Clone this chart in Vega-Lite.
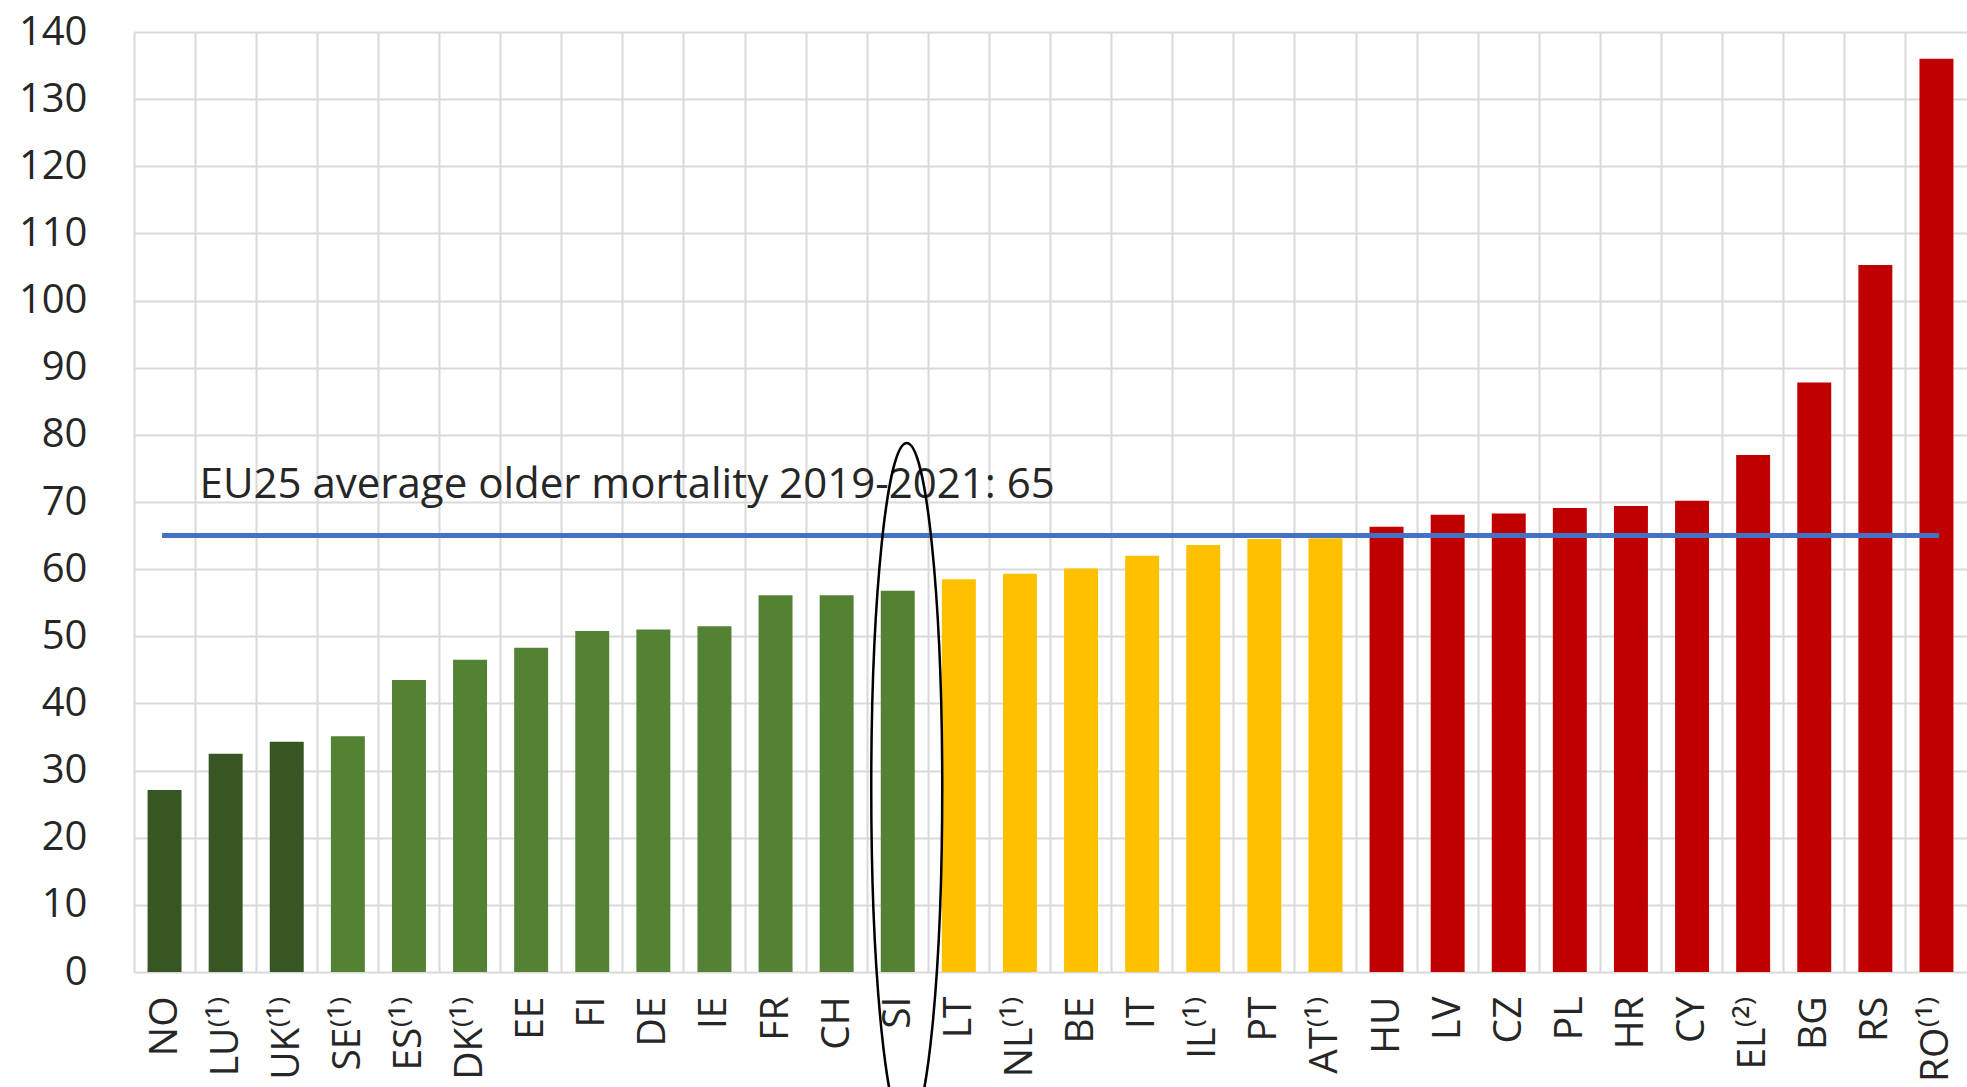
{
  "$schema": "https://vega.github.io/schema/vega-lite/v6.json",
  "autosize": "none",
  "width": 1833,
  "height": 940,
  "padding": {"left": 134, "top": 32, "right": 0, "bottom": 115},
  "background": "white",
  "config": {"view": {"stroke": null}, "font": "Open Sans"},
  "datasets": {
    "rates": [
      {"country": "NO", "value": 27.1, "group": "dark"},
      {"country": "LU⁽¹⁾", "value": 32.5, "group": "dark"},
      {"country": "UK⁽¹⁾", "value": 34.3, "group": "dark"},
      {"country": "SE⁽¹⁾", "value": 35.1, "group": "green"},
      {"country": "ES⁽¹⁾", "value": 43.5, "group": "green"},
      {"country": "DK⁽¹⁾", "value": 46.5, "group": "green"},
      {"country": "EE", "value": 48.3, "group": "green"},
      {"country": "FI", "value": 50.8, "group": "green"},
      {"country": "DE", "value": 51.0, "group": "green"},
      {"country": "IE", "value": 51.5, "group": "green"},
      {"country": "FR", "value": 56.1, "group": "green"},
      {"country": "CH", "value": 56.1, "group": "green"},
      {"country": "SI", "value": 56.8, "group": "green"},
      {"country": "LT", "value": 58.5, "group": "yellow"},
      {"country": "NL⁽¹⁾", "value": 59.3, "group": "yellow"},
      {"country": "BE", "value": 60.1, "group": "yellow"},
      {"country": "IT", "value": 62.0, "group": "yellow"},
      {"country": "IL⁽¹⁾", "value": 63.6, "group": "yellow"},
      {"country": "PT", "value": 64.5, "group": "yellow"},
      {"country": "AT⁽¹⁾", "value": 64.6, "group": "yellow"},
      {"country": "HU", "value": 66.3, "group": "red"},
      {"country": "LV", "value": 68.1, "group": "red"},
      {"country": "CZ", "value": 68.3, "group": "red"},
      {"country": "PL", "value": 69.1, "group": "red"},
      {"country": "HR", "value": 69.4, "group": "red"},
      {"country": "CY", "value": 70.2, "group": "red"},
      {"country": "EL⁽²⁾", "value": 77.0, "group": "red"},
      {"country": "BG", "value": 87.8, "group": "red"},
      {"country": "RS", "value": 105.3, "group": "red"},
      {"country": "RO⁽¹⁾", "value": 136.0, "group": "red"}
    ],
    "average": [
      {"country": "NO", "avg": 65},
      {"country": "RO⁽¹⁾", "avg": 65}
    ],
    "note": [
      {"country": "NO", "pos": 70.6, "label": "EU25 average older mortality 2019-2021: 65"}
    ],
    "highlight": [
      {"country": "SI", "center": 27.4}
    ]
  },
  "encoding": {
    "x": {
      "field": "country",
      "type": "nominal",
      "sort": null,
      "scale": {
        "domain": ["NO", "LU⁽¹⁾", "UK⁽¹⁾", "SE⁽¹⁾", "ES⁽¹⁾", "DK⁽¹⁾", "EE", "FI", "DE", "IE", "FR", "CH", "SI", "LT", "NL⁽¹⁾", "BE", "IT", "IL⁽¹⁾", "PT", "AT⁽¹⁾", "HU", "LV", "CZ", "PL", "HR", "CY", "EL⁽²⁾", "BG", "RS", "RO⁽¹⁾"],
        "paddingInner": 0,
        "paddingOuter": 0
      },
      "axis": {
        "title": null,
        "bandPosition": 0,
        "grid": true,
        "gridColor": "#D9D9D9",
        "gridWidth": 2,
        "ticks": false,
        "domain": false,
        "labelAngle": -90,
        "labelFont": "Open Sans",
        "labelFontSize": 39,
        "labelColor": "#262626",
        "labelPadding": 24
      }
    }
  },
  "layer": [
    {
      "data": {"name": "rates"},
      "mark": {"type": "bar", "width": {"band": 0.556}},
      "encoding": {
        "y": {
          "field": "value",
          "type": "quantitative",
          "scale": {"domain": [0, 140], "nice": false},
          "axis": {
            "title": null,
            "values": [0, 10, 20, 30, 40, 50, 60, 70, 80, 90, 100, 110, 120, 130, 140],
            "grid": true,
            "gridColor": "#D9D9D9",
            "gridWidth": 2,
            "ticks": false,
            "domain": false,
            "labelFont": "Open Sans",
            "labelFontSize": 40,
            "labelColor": "#262626",
            "labelPadding": 47
          }
        },
        "color": {
          "field": "group",
          "type": "nominal",
          "scale": {"domain": ["dark", "green", "yellow", "red"], "range": ["#375623", "#548235", "#FFC000", "#C00000"]},
          "legend": null
        }
      }
    },
    {
      "data": {"name": "average"},
      "mark": {"type": "line", "color": "#4472C4", "strokeWidth": 5, "strokeCap": "square"},
      "encoding": {
        "y": {"field": "avg", "type": "quantitative"}
      }
    },
    {
      "data": {"name": "note"},
      "mark": {"type": "text", "align": "left", "baseline": "alphabetic", "dx": 35, "font": "Open Sans", "fontSize": 42, "color": "#262626"},
      "encoding": {
        "y": {"field": "pos", "type": "quantitative"},
        "text": {"field": "label"}
      }
    },
    {
      "data": {"name": "highlight"},
      "mark": {
        "type": "point",
        "filled": false,
        "stroke": "black",
        "strokeWidth": 2.5,
        "opacity": 1,
        "xOffset": 9,
        "size": 476100,
        "shape": "M0,-1C0.0568,-1,0.1029,-0.5523,0.1029,0C0.1029,0.5523,0.0568,1,0,1C-0.0568,1,-0.1029,0.5523,-0.1029,0C-0.1029,-0.5523,-0.0568,-1,0,-1Z"
      },
      "encoding": {
        "y": {"field": "center", "type": "quantitative"}
      }
    }
  ]
}
